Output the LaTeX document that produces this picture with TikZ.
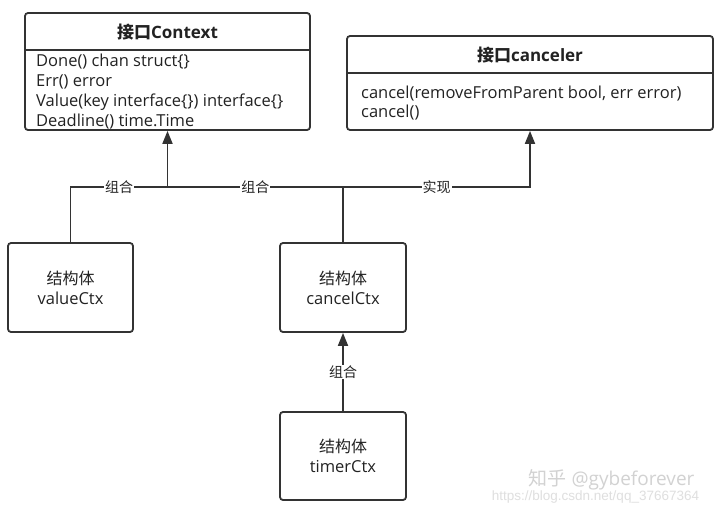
\documentclass[tikz,border=0pt]{standalone}
\usepackage{fontspec}
\setmainfont{Open Sans}
\newfontfamily\cjk{Noto Sans CJK SC}
\newfontfamily\wmfont{Liberation Sans}
\usepackage{tikz}
\usetikzlibrary{arrows.meta,positioning,calc}
\definecolor{umlline}{HTML}{333333}
\definecolor{umltext}{HTML}{222222}

\begin{document}
\begin{tikzpicture}[x=1pt,y=-1pt,font=\fontsize{16.5}{19.7}\selectfont,
  box/.style={draw=umlline,line width=1.8pt,rounded corners=3pt,fill=white,inner sep=0pt},
  member/.style={anchor=west,inner sep=0pt,text=umltext,align=left},
  head/.style={inner sep=0pt,text=umltext,font=\fontsize{17}{18}\selectfont\bfseries},
  lbl/.style={fill=white,inner sep=1pt,text=umltext,font=\fontsize{14}{16}\selectfont\cjk},
  link/.style={draw=umlline,line width=1.8pt},
  flow/.style={link,-{Triangle[length=13pt,width=10pt]}}]
\useasboundingbox[fill=white] (0,0) rectangle (726,514);
% interfaces
\node[box,minimum width=285pt,minimum height=117pt] (ctx) at (167.5,71.5) {};
\draw[umlline,line width=1.5pt] (ctx.west |- 0,50) -- (ctx.east |- 0,50);
\node[head] (ctxhead) at (167.5,32) {{\cjk 接口}Context};
\node[member] (ctxbody) at (36,91.5) {Done() chan struct\{\}\\Err() error\\Value(key interface\{\}) interface\{\}\\Deadline() time.Time};
\node[box,minimum width=366pt,minimum height=94pt] (cnl) at (530,83) {};
\draw[umlline,line width=1.5pt] (cnl.west |- 0,73) -- (cnl.east |- 0,73);
\node[head] (cnlhead) at (530,55) {{\cjk 接口}canceler};
\node[member] (cnlbody) at (361,103) {cancel(removeFromParent bool, err error)\\cancel()};
% structs
\node[box,minimum width=125pt,minimum height=89pt,align=center,text=umltext] (val) at (70.5,287.5) {{\cjk\fontsize{16}{19.7}\selectfont 结构体}\\valueCtx};
\node[box,minimum width=126pt,minimum height=89pt,align=center,text=umltext] (cc) at (343,287.5) {{\cjk\fontsize{16}{19.7}\selectfont 结构体}\\cancelCtx};
\node[box,minimum width=126pt,minimum height=88pt,align=center,text=umltext] (tm) at (343,456) {{\cjk\fontsize{16}{19.7}\selectfont 结构体}\\timerCtx};
% connectors
\coordinate (jn) at (ctx.south |- 0,187);
\draw[link] (val.north) |- node[lbl,pos=0.75]{组合} (jn);
\draw[link] (cc.north) |- node[lbl,pos=0.75]{组合} (jn);
\draw[flow] (jn) -- (ctx.south);
\draw[flow] (cc.north |- jn) -| node[lbl,pos=0.25]{实现} (cnl.south);
\draw[flow] (tm.north) -- node[lbl]{组合} (cc.south);
% watermark
\node[text=gray!35,font=\fontsize{19}{19}\selectfont] (wm1) at (611.5,479.5) {{\cjk 知乎} @gybeforever};
\node[text=gray!25,font=\fontsize{13.5}{13.5}\wmfont] (wm2) at (595.5,497) {https://blog.csdn.net/qq\_37667364};
\end{tikzpicture}
\end{document}
